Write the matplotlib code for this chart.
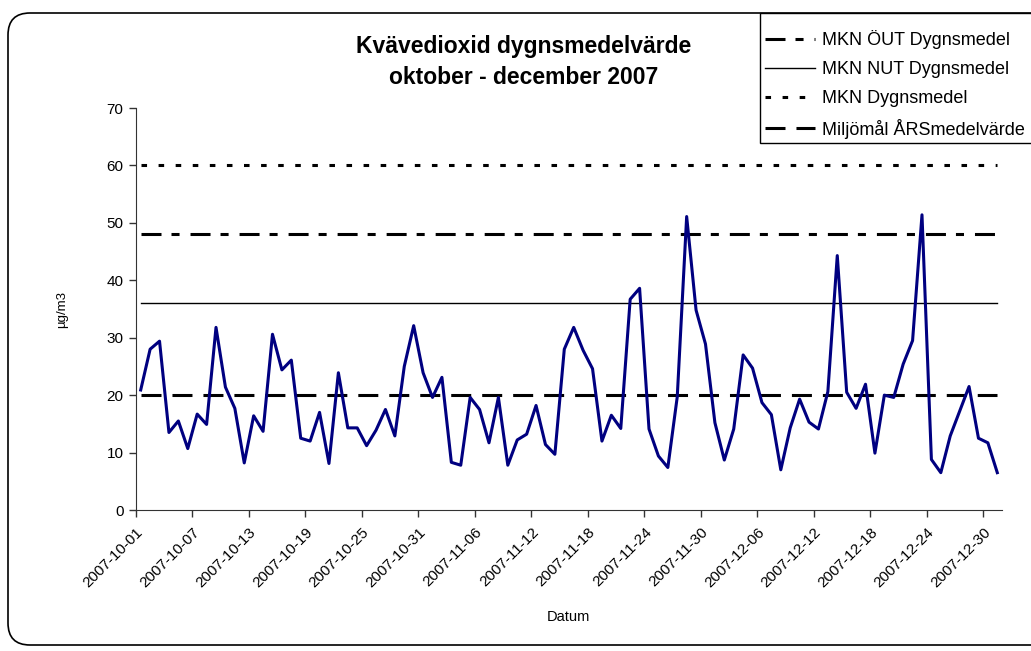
import numpy as np
import matplotlib.pyplot as plt
from matplotlib.patches import FancyBboxPatch, Rectangle
from matplotlib.transforms import IdentityTransform

plt.rcParams['font.family'] = ['Liberation Sans', 'DejaVu Sans']
plt.rcParams['lines.scale_dashes'] = False

# daily NO2 means, 2007-10-01 .. 2007-12-31 (92 days)
no2 = [20.9, 28.0, 29.4, 13.5, 15.5, 10.7, 16.7, 14.9, 31.8, 21.4, 17.7, 8.2, 16.4,
       13.7, 30.6, 24.4, 26.1, 12.5, 12.0, 17.0, 8.1, 23.9, 14.3, 14.3, 11.2, 13.9,
       17.5, 12.9, 25.0, 32.1, 23.9, 19.6, 23.1, 8.3, 7.8, 19.6, 17.5, 11.7, 19.6,
       7.8, 12.2, 13.2, 18.2, 11.4, 9.7, 28.0, 31.8, 27.8, 24.6, 12.0, 16.5, 14.2,
       36.7, 38.6, 14.1, 9.4, 7.4, 19.7, 51.1, 34.8, 28.9, 15.2, 8.7, 14.1, 27.0,
       24.7, 18.7, 16.6, 7.0, 14.3, 19.3, 15.3, 14.1,
       20.6, 44.3, 20.5, 17.7, 21.9, 9.9, 20.0, 19.6, 25.4, 29.5, 51.4, 8.8, 6.5,
       12.9, 17.2, 21.5, 12.5, 11.7, 6.5]

tick_labels = ['2007-10-01', '2007-10-07', '2007-10-13', '2007-10-19', '2007-10-25',
               '2007-10-31', '2007-11-06', '2007-11-12', '2007-11-18', '2007-11-24',
               '2007-11-30', '2007-12-06', '2007-12-12', '2007-12-18', '2007-12-24',
               '2007-12-30']

ref_names = ['MKN ÖUT Dygnsmedel', 'MKN NUT Dygnsmedel', 'MKN Dygnsmedel',
             'Miljömål ÅRSmedelvärde']
ref_values = [48, 36, 60, 20]

n = len(no2)
x = np.arange(n) + 0.5

fig = plt.figure(figsize=(10.31, 6.51), dpi=100)
ax = fig.add_axes([136 / 1031, 1 - 510 / 651, 866 / 1031, 402 / 651])

# outer rounded frame (runs off the right edge like the original)
frame = FancyBboxPatch((8, 6), 1080, 632, boxstyle='round,pad=0,rounding_size=22',
                       transform=IdentityTransform(), fc='white', ec='black', lw=1.2,
                       zorder=-10)
fig.patches.append(frame)

lw = 2.2
styles = [
    dict(color='black', lw=lw, dashes=(14.4, 7.2, 5.8, 7.9)),
    dict(color='black', lw=1.0, linestyle='-'),
    dict(color='black', lw=lw, dashes=(4.0, 8.3)),
    dict(color='black', lw=lw, dashes=(14.4, 7.9)),
]
handles = []
for name, val, st in zip(ref_names, ref_values, styles):
    h, = ax.plot([x[0], x[-1]], [val, val], label=name, **st)
    handles.append(h)

ax.plot(x, no2, color='#000080', lw=2.2, zorder=5)

ax.set_xlim(0, n)
ax.set_ylim(0, 70)
ax.set_yticks(range(0, 71, 10))
ax.set_xticks(np.arange(0, n, 6))
ax.set_xticklabels(tick_labels, rotation=45, ha='right', rotation_mode='anchor')
ax.tick_params(axis='both', labelsize=11, direction='out', length=5, width=1,
               color='#333333')
ax.tick_params(axis='x', pad=6)
ax.tick_params(axis='y', pad=4)
for s in ['top', 'right']:
    ax.spines[s].set_visible(False)
for s in ['left', 'bottom']:
    ax.spines[s].set_color('#333333')
ax.patch.set_alpha(0)

fig.text(62 / 1031, 1 - 310 / 651, 'µg/m3', rotation=90, ha='center', va='center',
         fontsize=9.5)
fig.text(568 / 1031, 1 - 617 / 651, 'Datum', ha='center', va='center', fontsize=10.5)

fig.text(524 / 1031, 1 - 47 / 651, 'Kvävedioxid dygnsmedelvärde', ha='center',
         va='center', fontsize=16.5, fontweight='bold')
fig.text(524 / 1031, 1 - 78 / 651, 'oktober - december 2007', ha='center',
         va='center', fontsize=16.5, fontweight='bold')

# legend box drawn separately, legend entries without frame
legbox = Rectangle((760, 651 - 143), 300, 130, transform=IdentityTransform(),
                   fc='white', ec='black', lw=1.0, zorder=3)
fig.patches.append(legbox)
leg = fig.legend(handles=handles, loc='upper left',
                 bbox_to_anchor=(765 / 1031, 1 - 30 / 651), fontsize=13,
                 frameon=False, handlelength=2.75, handletextpad=0.38,
                 labelspacing=0.66, borderpad=0, borderaxespad=0)
leg.set_zorder(4)

plt.savefig('out.png', dpi=100)
